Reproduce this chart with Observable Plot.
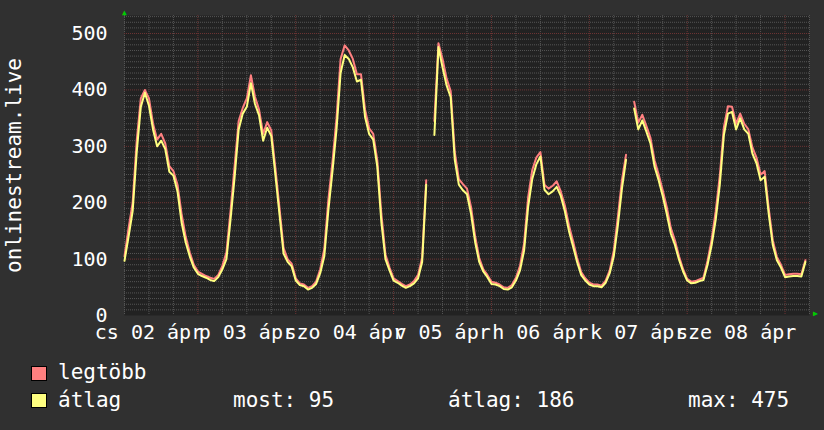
<!DOCTYPE html>
<html><head><meta charset="utf-8">
<script src="https://cdn.jsdelivr.net/npm/d3@7"></script>
<script src="https://cdn.jsdelivr.net/npm/@observablehq/plot@0.6"></script>
<style>
body{margin:0;background:#303030;}
#wrap{position:relative;width:824px;height:430px;background:#303030;font-family:"DejaVu Sans Mono",monospace;color:#fff;overflow:hidden}
#wrap svg{position:absolute;left:0;top:0}
.sw{position:absolute;width:14px;height:13px;border:1px solid #000}
.lt{position:absolute;font-size:21px;line-height:21px;white-space:pre;color:#fff}
</style></head><body><div id="wrap"></div>
<script>
// x-axis day labels (centred at noon of each day), hours from 2 Apr 06:00
const dayLabels = ["cs 02 ápr", "p 03 ápr", "szo 04 ápr", "v 05 ápr", "h 06 ápr", "k 07 ápr", "sze 08 ápr"];
const dayTickHours = [6, 30, 54, 78, 102, 126, 150];
const yTickValues = [0, 100, 200, 300, 400, 500];

// hourly averages ("átlag")
const avgValues = [
  97,140,185,290,370,395,372,330,300,310,295,255,248,220,165,130,105,85,74,70,67,63,61,68,82,100,170,245,330,358,370,412,375,355,
  310,333,318,250,180,110,95,87,62,54,52,46,49,56,75,105,187,255,330,430,462,455,440,415,418,352,322,312,264,165,100,80,62,
  58,53,49,52,57,66,95,232,null,320,476,440,408,387,276,232,222,215,180,130,95,78,68,56,55,52,47,46,50,62,80,115,193,242,
  268,282,223,215,220,228,212,185,150,123,95,72,62,55,52,52,50,58,75,105,160,225,276,null,367,330,346,326,305,264,240,212,180,145,
  125,99,78,62,57,58,61,63,90,125,170,232,320,358,361,330,350,330,322,287,270,240,246,180,125,98,85,68,69,70,70,69,95
];
// hourly maxima ("legtöbb")
const maxValues = [
  105,155,200,310,385,400,385,340,312,322,305,265,256,232,180,140,112,90,78,74,70,67,65,72,88,112,185,265,345,368,385,426,388,365,
  322,343,328,262,192,120,100,92,66,57,55,49,52,60,82,118,205,272,350,455,479,470,455,428,428,365,332,322,275,180,108,85,66,
  61,56,52,55,61,72,103,240,null,345,483,455,420,398,290,242,233,225,192,140,102,82,72,60,58,55,50,49,54,67,88,128,210,258,
  280,290,232,225,230,238,220,195,160,132,102,77,66,58,55,55,53,62,80,115,175,240,285,null,379,342,356,336,315,275,250,222,192,155,
  133,105,82,65,60,61,64,67,97,135,185,248,334,371,370,340,358,340,330,298,280,250,256,190,133,104,90,72,73,74,74,73,98
];
const seriesNames = ["legtöbb", "átlag"];
const seriesColors = ["#ff8080", "#ffff80"];
const statLabels = ["most", "átlag", "max"];
const statValues = [95, 186, 475];
const yAxisTitle = "onlinestream.live";

const hours = d3.range(avgValues.length);
const rows = hours.map((h, i) => ({h, max: maxValues[i], avg: avgValues[i]}));

const minorX = d3.range(0, 169, 6).filter(h => (h - 18) % 24 !== 0);
const majorX = d3.range(18, 168, 24);
const minorY = d3.range(10, 532, 10).filter(v => v % 100 !== 0);
const majorY = d3.range(100, 532, 100);

const chart = Plot.plot({
  width: 824, height: 345,
  marginTop: 15, marginRight: 15, marginBottom: 30, marginLeft: 124,
  style: {background: "transparent", color: "#fff", fontFamily: "DejaVu Sans Mono", fontSize: "20px", overflow: "visible"},
  x: {domain: [0, 168]},
  y: {domain: [0, 532]},
  marks: [
    Plot.frame({fill: "#222222", stroke: "none"}),
    Plot.ruleY(minorY, {stroke: "#555555", strokeDasharray: "1,1"}),
    Plot.ruleX(minorX, {stroke: "#555555", strokeDasharray: "1,1"}),
    Plot.ruleY(majorY, {stroke: "#6e3434", strokeDasharray: "1,1"}),
    Plot.ruleX(majorX, {stroke: "#6e3434", strokeDasharray: "1,1"}),
    Plot.line(rows, {x: "h", y: "max", curve: "linear", stroke: seriesColors[0], strokeWidth: 2}),
    Plot.line(rows, {x: "h", y: "avg", curve: "linear", stroke: seriesColors[1], strokeWidth: 2}),
    Plot.axisY(yTickValues, {tickSize: 0, tickPadding: 17, label: null, fontSize: 20, fill: "#fff"}),
    Plot.axisX(dayTickHours, {tickSize: 0, tickPadding: 9, label: null, fontSize: 20, fill: "#fff",
      tickFormat: d => dayLabels[dayTickHours.indexOf(d)]}),
    Plot.text([yAxisTitle], {text: d => d, frameAnchor: "left", textAnchor: "middle", rotate: -90, dx: -110, fontSize: 21, fill: "#fff"}),
    Plot.text(["▲"], {text: d => d, frameAnchor: "top-left", textAnchor: "middle", dy: -6, fontSize: 8, fill: "#00cc00"}),
    Plot.text(["▶"], {text: d => d, frameAnchor: "bottom-right", textAnchor: "middle", dx: 6, fontSize: 8, fill: "#00cc00"})
  ]
});
const wrap = document.getElementById("wrap");
wrap.appendChild(chart);

function addBox(left, top, color) {
  const b = document.createElement("div");
  b.className = "sw"; b.style.left = left + "px"; b.style.top = top + "px"; b.style.background = color;
  wrap.appendChild(b);
}
function addText(left, top, txt) {
  const t = document.createElement("div");
  t.className = "lt"; t.style.left = left + "px"; t.style.top = top + "px"; t.textContent = txt;
  wrap.appendChild(t);
}
addBox(31, 366, seriesColors[0]);
addText(58, 362, seriesNames[0]);
addBox(31, 393, seriesColors[1]);
addText(58, 390, seriesNames[1]);
const statX = [233, 448, 688];
statLabels.forEach((s, i) => addText(statX[i], 390, s + ": " + statValues[i]));
</script></body></html>
